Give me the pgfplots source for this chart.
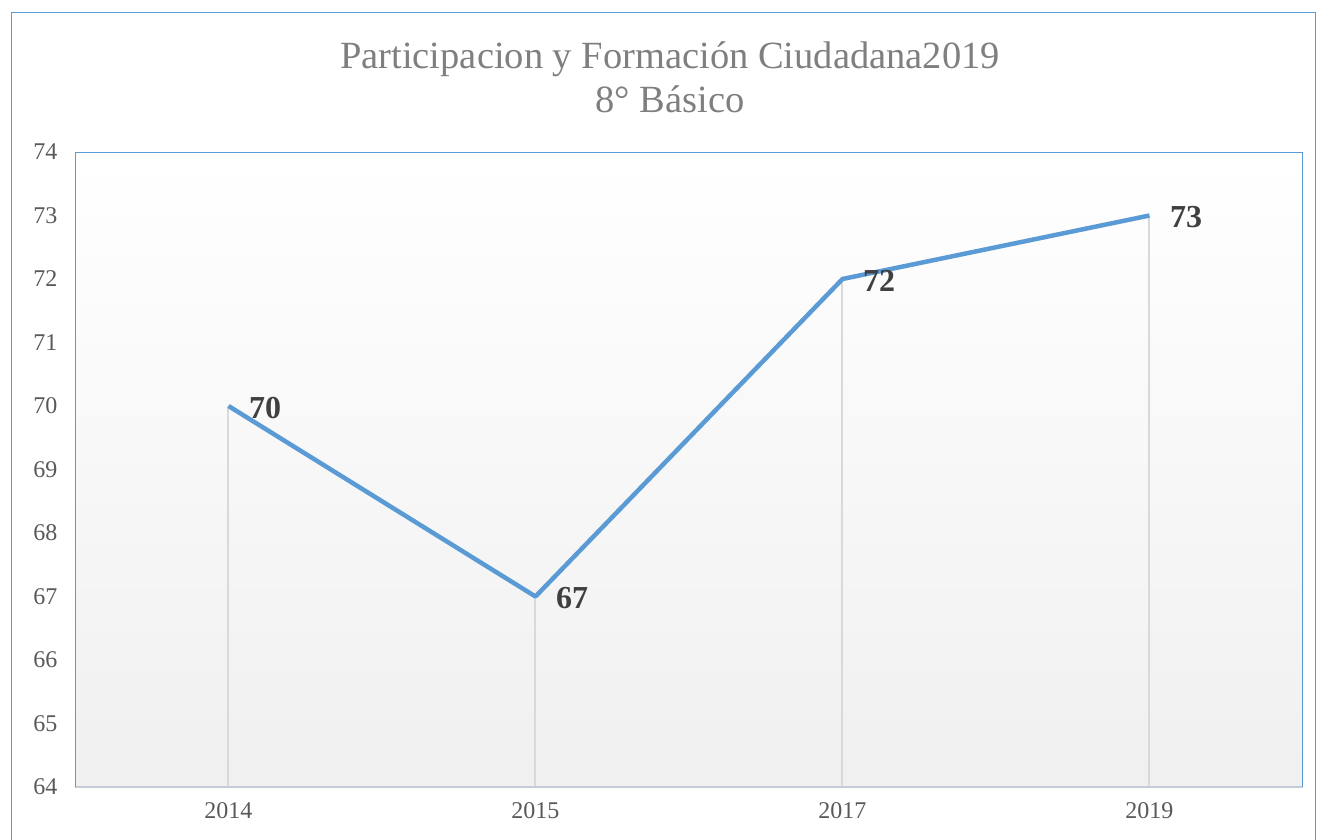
\documentclass[border=0pt]{standalone}
\usepackage{pgfplots}
\pgfplotsset{compat=1.18}
\usepackage{fontspec}
\setmainfont{Liberation Serif}
\definecolor{lineblue}{HTML}{5B9BD5}
\definecolor{tickgray}{HTML}{595959}
\definecolor{titlegray}{HTML}{7F7F7F}
\definecolor{labgray}{HTML}{404040}
\definecolor{dropgray}{HTML}{D9D9D9}
\definecolor{basegray}{HTML}{C5CCD6}
\begin{document}
\begin{tikzpicture}[x=1pt,y=1pt]
\useasboundingbox (0,0) rectangle (1317,-840);
\draw[lineblue, line width=1.5pt] (11.5,-860) -- (11.5,-12.5) -- (1315.5,-12.5) -- (1315.5,-860);
\node[text=titlegray, font=\fontsize{38.5}{44}\selectfont, align=center] at (670,-77) {Participacion y Formación Ciudadana2019\\8° Básico};
\begin{axis}[
  at={(75pt,-787pt)}, anchor=south west,
  width=1228pt, height=635pt, scale only axis,
  xmin=-0.5, xmax=3.5, ymin=64, ymax=74,
  xtick={0,1,2,3}, xticklabels={2014,2015,2017,2019},
  ytick={64,65,...,74},
  major tick length=0pt,
  tick style={draw=none},
  axis line style={draw=none},
  ticklabel style={text=tickgray, font=\fontsize{24}{27}\selectfont},
  /pgf/number format/assume math mode=true,
  yticklabel style={xshift=-14pt},
  xticklabel style={yshift=-12pt},
  axis background/.style={top color=white, bottom color=black!6},
  clip=true,
]
\addplot[ycomb, draw=dropgray, line width=2pt, mark=none] coordinates {(0,70) (1,67) (2,72) (3,73)};
\addplot[draw=lineblue, line width=4.5pt, line join=round, mark=none,
  nodes near coords, point meta=explicit symbolic,
  every node near coord/.append style={anchor=west, xshift=15pt, yshift=-2pt, text=labgray, font=\fontsize{32}{35}\selectfont\bfseries}]
  coordinates {(0,70)[70] (1,67)[67] (2,72)[72] (3,73)[73]};
\draw[basegray, line width=2pt] (rel axis cs:0,0) -- (rel axis cs:1,0);
\draw[lineblue, line width=1.5pt] (rel axis cs:0,0) -- (rel axis cs:0,1) -- (rel axis cs:1,1) -- (rel axis cs:1,0);
\end{axis}
\end{tikzpicture}
\end{document}
